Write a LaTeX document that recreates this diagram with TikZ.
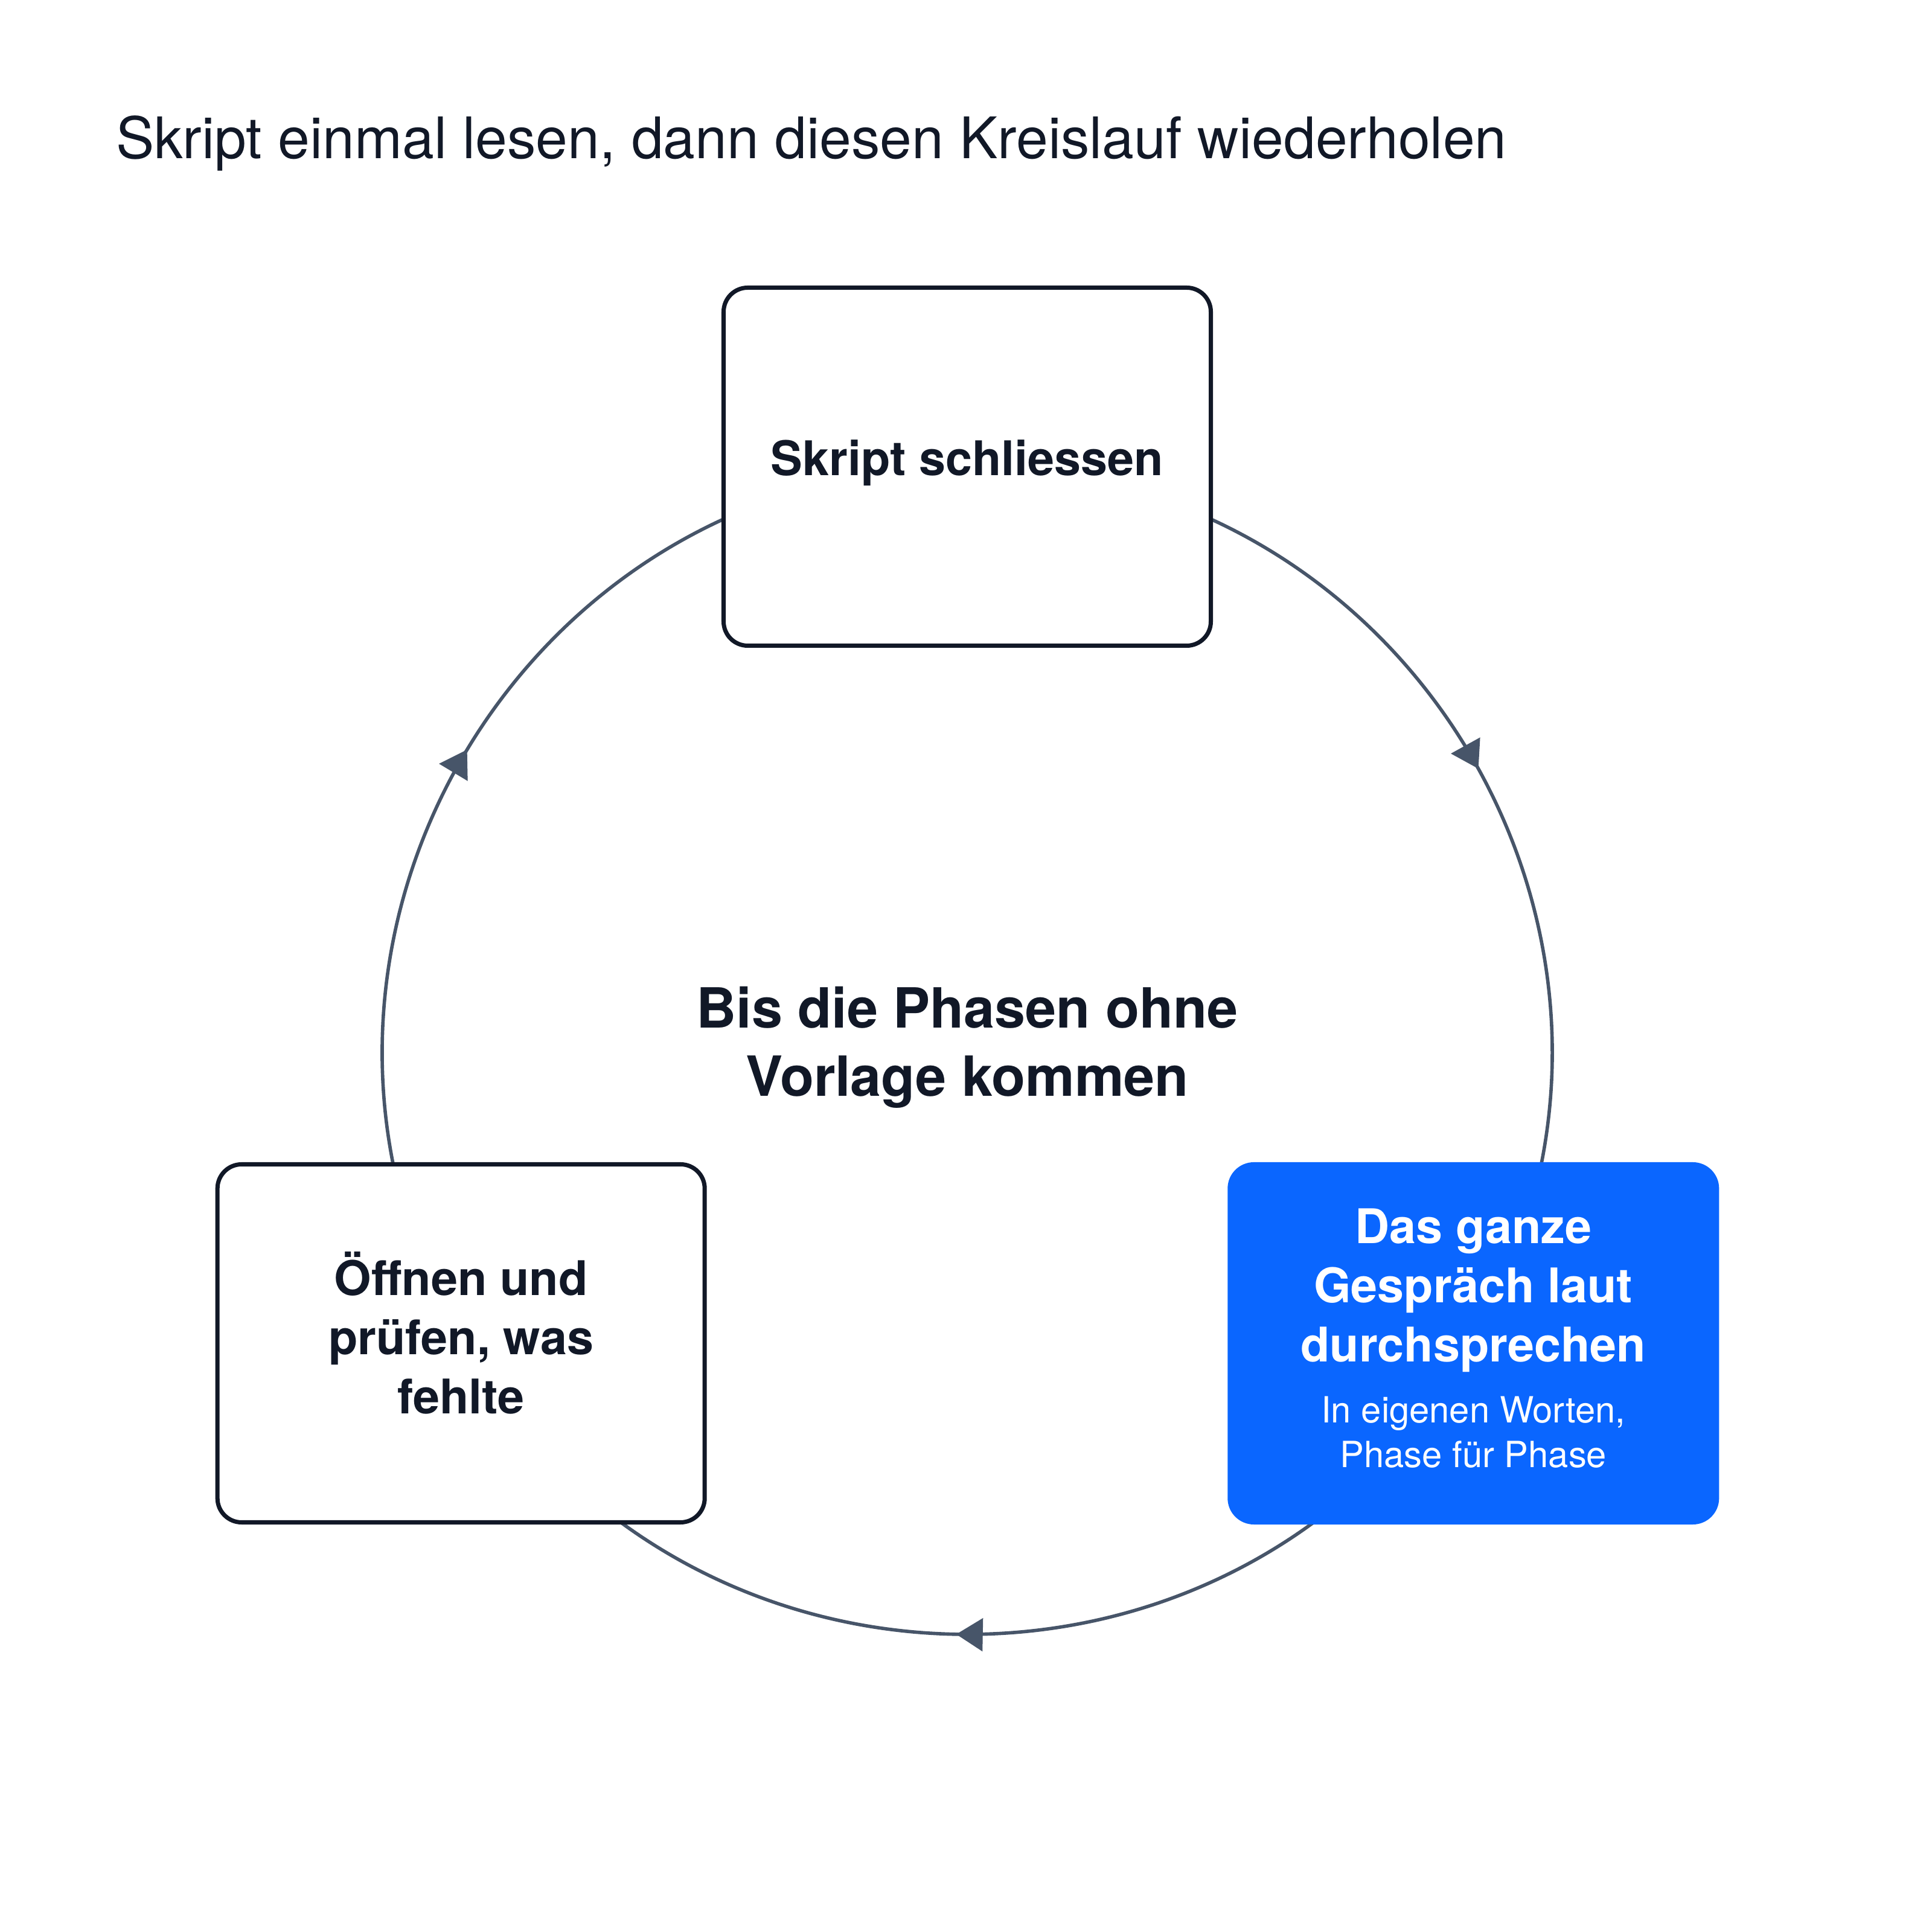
\documentclass[tikz,border=0pt]{standalone}
\usepackage{fontspec}
\setmainfont{TeX Gyre Heros}
\usepackage{tikz}
\usetikzlibrary{arrows.meta, positioning, backgrounds, decorations.markings}

\definecolor{ink}{HTML}{111827}
\definecolor{slate}{HTML}{475569}
\definecolor{signal}{HTML}{0A66FF}
\newcommand{\klein}{\fontsize{17}{21}\selectfont\mdseries}

\begin{document}
\begin{tikzpicture}[>={Triangle[length=0.44cm,width=0.54cm]},
	every edge/.append style={slate, line width=1.6pt},
	phase/.style={rectangle, rounded corners=0.4cm, draw=ink, line width=2pt, fill=white, text=ink,
		minimum width=8.07cm, minimum height=5.93cm, align=center, inner sep=0pt,
		font=\fontsize{22.5}{27.9}\selectfont\bfseries},
	aktiv/.style={phase, draw=signal, fill=signal, text=white},
	kreis/.style={bend left=60, looseness=1.135, postaction={decorate},
		decoration={markings, mark=at position 0.509 with {\arrow{>}}}}]
	\useasboundingbox (0,0) rectangle (32,32);
	\coordinate (mitte) at (16.02,14.59);
	
	\node[anchor=base west, inner sep=0pt, text=ink, font=\fontsize{27}{32}\selectfont] (titel) at (1.915,29.37)
		{Skript einmal lesen, dann diesen Kreislauf wiederholen};
	
	\node[phase] (schliessen) at ([shift={(90:9.68)}]mitte) {Skript schliessen\rule[-0.29cm]{0pt}{0pt}};
	\node[aktiv] (sprechen) at ([shift={(-30:9.68)}]mitte) {Das ganze\\Gespräch laut\\durchsprechen\\[0.85pt]
		\klein In eigenen Worten,\\[-6.9pt]\klein Phase für Phase\rule[-0.18cm]{0pt}{0pt}};
	\node[phase] (pruefen) at ([shift={(210:9.68)}]mitte) {Öffnen und\\prüfen, was\\fehlte\rule[-0.35cm]{0pt}{0pt}};
	
	\node[text=ink, align=center, font=\fontsize{26.1}{32.2}\selectfont\bfseries] (ziel) at ([yshift=0.06cm]mitte)
		{Bis die Phasen ohne\\Vorlage kommen};
	
	\begin{scope}[on background layer]
	\fill[white] (0,0) rectangle (32,32);
	\path (schliessen.center) edge[kreis] (sprechen.center)
		(sprechen.center) edge[kreis] (pruefen.center)
		(pruefen.center) edge[kreis] (schliessen.center);
	\end{scope}
\end{tikzpicture}
\end{document}
